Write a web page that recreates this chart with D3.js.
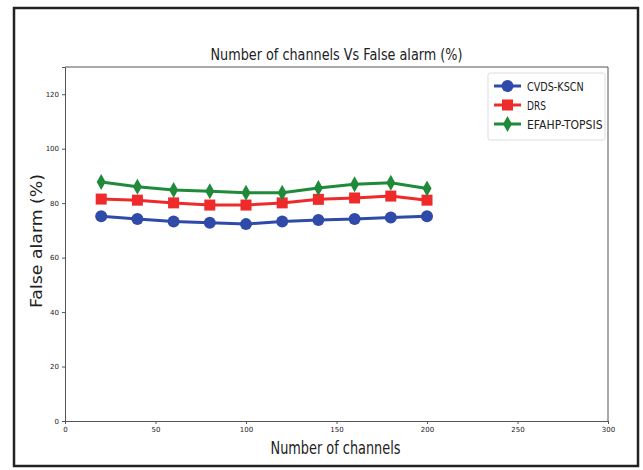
<!DOCTYPE html>
<html>
<head>
<meta charset="utf-8">
<script src="https://cdn.jsdelivr.net/npm/d3@7"></script>
<style>
  body { margin: 0; background: #fff; }
  text { font-family: "DejaVu Sans", sans-serif; fill: #222; }
</style>
</head>
<body>
<div id="chart"></div>
<script>
// DATA
const channels = [20, 40, 60, 80, 100, 120, 140, 160, 180, 200];
const cvdsKscn = [75.2, 74.2, 73.3, 72.8, 72.3, 73.3, 73.8, 74.2, 74.7, 75.2];
const drs = [81.5, 81.1, 80.1, 79.3, 79.3, 80.1, 81.4, 81.9, 82.6, 81.1];
const efahpTopsis = [87.8, 86.0, 84.8, 84.4, 83.8, 83.8, 85.6, 86.9, 87.5, 85.4];
const seriesNames = ['CVDS-KSCN', 'DRS', 'EFAHP-TOPSIS'];
const xTicks = [0, 50, 100, 150, 200, 250, 300];
const yTicks = [0, 20, 40, 60, 80, 100, 120];

const colors = ['#2f4aa8', '#ee2a2a', '#1f8a3a'];
const shapes = ['circle', 'square', 'diamond'];
const series = [cvdsKscn, drs, efahpTopsis];

const W = 643, H = 470;
const margin = {left: 65, top: 67, right: 35, bottom: 49};
const width = W - margin.left - margin.right;
const height = H - margin.top - margin.bottom;

const svg = d3.select('#chart').append('svg')
  .attr('width', W).attr('height', H);

// outer frame
svg.append('rect')
  .attr('x', 14).attr('y', 8).attr('width', 624).attr('height', 458)
  .attr('fill', 'none').attr('stroke', '#222').attr('stroke-width', 2.5);

const g = svg.append('g')
  .attr('transform', 'translate(' + margin.left + ',' + margin.top + ')');

const x = d3.scaleLinear().domain([0, 300]).range([0, width]);
const y = d3.scaleLinear().domain([0, 130]).range([height, 0]);

// axes
const xAxis = g.append('g').attr('transform', 'translate(0,' + height + ')')
  .call(d3.axisBottom(x).tickValues(xTicks).tickSize(3).tickPadding(3));
const yAxis = g.append('g')
  .call(d3.axisLeft(y).tickValues(yTicks).tickSize(3).tickPadding(3));
[xAxis, yAxis].forEach(function(a) {
  a.select('.domain').attr('stroke', '#555');
  a.selectAll('.tick line').attr('stroke', '#555');
  a.selectAll('text').style('font-size', '7px').attr('fill', '#444');
});
// top and right spines
g.append('line').attr('x1', 0).attr('x2', width).attr('y1', 0).attr('y2', 0).attr('stroke', '#555');
g.append('line').attr('x1', width).attr('x2', width).attr('y1', 0).attr('y2', height).attr('stroke', '#555');

function drawMarker(sel, shape, color, cx, cy) {
  if (shape === 'circle') {
    sel.append('circle').attr('cx', cx).attr('cy', cy).attr('r', 6).attr('fill', color);
  } else if (shape === 'square') {
    sel.append('rect').attr('x', cx - 5.5).attr('y', cy - 5.5).attr('width', 11).attr('height', 11).attr('fill', color);
  } else {
    sel.append('path')
      .attr('d', 'M' + cx + ',' + (cy - 8) + 'L' + (cx + 4.5) + ',' + cy + 'L' + cx + ',' + (cy + 8) + 'L' + (cx - 4.5) + ',' + cy + 'Z')
      .attr('fill', color);
  }
}

const line = d3.line().x(function(d, i) { return x(channels[i]); }).y(function(d) { return y(d); });

series.forEach(function(s, k) {
  g.append('path').datum(s)
    .attr('d', line)
    .attr('fill', 'none')
    .attr('stroke', colors[k])
    .attr('stroke-width', 3);
  s.forEach(function(v, i) {
    drawMarker(g, shapes[k], colors[k], x(channels[i]), y(v));
  });
});

// title and labels
svg.append('text')
  .attr('x', margin.left + width / 2).attr('y', 60)
  .attr('text-anchor', 'middle')
  .style('font-size', '16px')
  .attr('textLength', 252).attr('lengthAdjust', 'spacingAndGlyphs')
  .text('Number of channels Vs False alarm (%)');

svg.append('text')
  .attr('x', margin.left + width / 2 - 1).attr('y', 454)
  .attr('text-anchor', 'middle')
  .style('font-size', '17px')
  .attr('textLength', 130).attr('lengthAdjust', 'spacingAndGlyphs')
  .text('Number of channels');

svg.append('text')
  .attr('transform', 'translate(42,' + 241 + ') rotate(-90)')
  .attr('text-anchor', 'middle')
  .style('font-size', '15px')
  .attr('textLength', 134).attr('lengthAdjust', 'spacingAndGlyphs')
  .text('False alarm (%)');

// legend
const legend = svg.append('g').attr('transform', 'translate(488,73)');
legend.append('rect')
  .attr('width', 117).attr('height', 67).attr('rx', 2)
  .attr('fill', '#fff').attr('stroke', '#ddd');
seriesNames.forEach(function(name, k) {
  const ly = 13 + k * 19;
  legend.append('line').attr('x1', 6).attr('x2', 33).attr('y1', ly).attr('y2', ly)
    .attr('stroke', colors[k]).attr('stroke-width', 3);
  drawMarker(legend, shapes[k], colors[k], 19.5, ly);
  legend.append('text').attr('x', 39).attr('y', ly + 5)
    .style('font-size', '13px')
    .attr('textLength', name.length * 6.3).attr('lengthAdjust', 'spacingAndGlyphs')
    .text(name);
});
</script>
</body>
</html>
